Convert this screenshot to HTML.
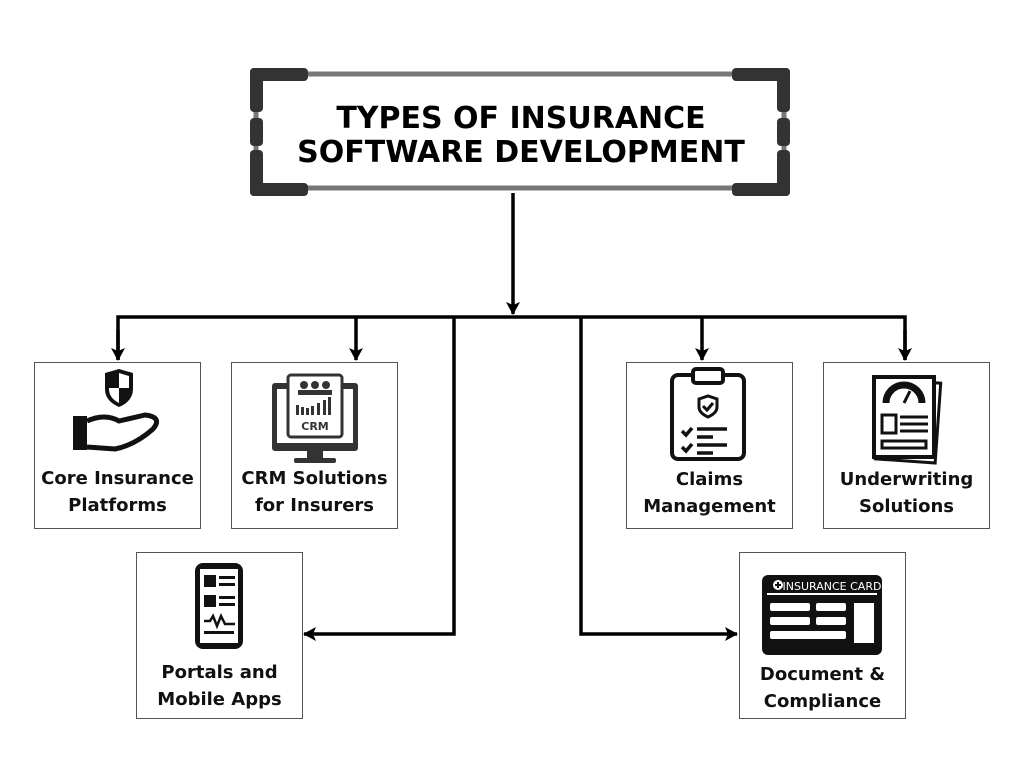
<!DOCTYPE html>
<html><head><style>
body{margin:0;width:1024px;height:768px;background:#fff;position:relative;font-family:"DejaVu Sans","Liberation Sans",sans-serif;overflow:hidden}
.box{position:absolute;width:167px;height:167px;border:1.5px solid #555;box-sizing:border-box;background:#fff}
.lbl{position:absolute;left:0;right:0;text-align:center;font-weight:bold;font-size:18px;line-height:27px;color:#111}
svg{position:absolute;left:0;top:0}
</style></head><body>
<svg width="1024" height="768">
<defs>
<marker id="b" markerWidth="14" markerHeight="14" refX="12" refY="7" orient="auto" markerUnits="userSpaceOnUse"><path d="M0,0L13,7L0,14L3,7z" fill="#000"/></marker></defs>
<rect x="252" y="70" width="537" height="122" fill="#fff"/>
<line x1="290" y1="74" x2="750" y2="74" stroke="#777" stroke-width="5"/>
<line x1="290" y1="188" x2="750" y2="188" stroke="#777" stroke-width="5"/>
<line x1="256" y1="100" x2="256" y2="165" stroke="#777" stroke-width="5"/>
<line x1="784" y1="100" x2="784" y2="165" stroke="#777" stroke-width="5"/>
<g fill="#333">
<rect x="250" y="68" width="58" height="13" rx="4"/><rect x="250" y="68" width="13" height="44" rx="4"/>
<rect x="732" y="68" width="58" height="13" rx="4"/><rect x="777" y="68" width="13" height="44" rx="4"/>
<rect x="250" y="183" width="58" height="13" rx="4"/><rect x="250" y="150" width="13" height="46" rx="4"/>
<rect x="732" y="183" width="58" height="13" rx="4"/><rect x="777" y="150" width="13" height="46" rx="4"/>
<rect x="250" y="118" width="13" height="28" rx="4"/><rect x="777" y="118" width="13" height="28" rx="4"/>
</g>
<text x="521" y="128" text-anchor="middle" font-family="DejaVu Sans,Liberation Sans,sans-serif" font-weight="bold" font-size="30">TYPES OF INSURANCE</text>
<text x="521" y="162" text-anchor="middle" font-family="DejaVu Sans,Liberation Sans,sans-serif" font-weight="bold" font-size="30">SOFTWARE DEVELOPMENT</text>
<g stroke="#000" stroke-width="3.5" fill="none">
<line x1="513" y1="193" x2="513" y2="314" marker-end="url(#b)"/>
<polyline points="118,360 118,317 905,317 905,360"/>
<line x1="118" y1="330" x2="118" y2="360" marker-end="url(#b)"/>
<line x1="905" y1="330" x2="905" y2="360" marker-end="url(#b)"/>
<line x1="356" y1="317" x2="356" y2="360" marker-end="url(#b)"/>
<line x1="702" y1="317" x2="702" y2="360" marker-end="url(#b)"/>
<polyline points="454,317 454,634 304,634" marker-end="url(#b)"/>
<polyline points="581,317 581,634 737,634" marker-end="url(#b)"/>
</g>
</svg>

<div class="box" style="left:34px;top:362px">
<svg width="165" height="165" viewBox="0 0 165 165"><path d="M70 10 L84 6 L98 10 L98 26 Q98 38 84 44 Q70 38 70 26Z" fill="#111"/><path d="M84 10 L94 13 L94 25 L84 25Z M74 25 L84 25 L84 40 Q74 35 74 26Z" fill="#fff"/>
<rect x="38" y="53" width="14" height="34" fill="#111"/><path d="M52 58 Q70 50 84 58 L110 52 Q128 54 118 66 Q100 82 80 86 L52 84" fill="none" stroke="#111" stroke-width="5"/></svg>
<div class="lbl" style="top:102px">Core Insurance<br>Platforms</div></div>

<div class="box" style="left:231px;top:362px">
<svg width="165" height="165" viewBox="0 0 165 165"><rect x="40" y="20" width="86" height="68" rx="3" fill="#333"/><rect x="45" y="26" width="76" height="54" fill="#fff"/><rect x="56" y="12" width="54" height="62" rx="3" fill="#fff" stroke="#333" stroke-width="3"/>
<circle cx="72" cy="22" r="4" fill="#333"/><circle cx="83" cy="22" r="4" fill="#333"/><circle cx="94" cy="22" r="4" fill="#333"/><rect x="66" y="27" width="34" height="5" fill="#333"/>
<g fill="#333"><rect x="64" y="42" width="3" height="10"/><rect x="69" y="44" width="3" height="8"/><rect x="74" y="45" width="3" height="7"/><rect x="79" y="43" width="3" height="9"/><rect x="85" y="40" width="3" height="12"/><rect x="91" y="37" width="3" height="15"/><rect x="96" y="34" width="3" height="18"/></g>
<text x="83" y="67" text-anchor="middle" font-size="11" font-weight="bold" fill="#333" font-family="DejaVu Sans,sans-serif">CRM</text>
<rect x="75" y="88" width="16" height="8" fill="#333"/><rect x="62" y="95" width="42" height="5" rx="2" fill="#333"/></svg>
<div class="lbl" style="top:102px">CRM Solutions<br>for Insurers</div></div>

<div class="box" style="left:626px;top:362px">
<svg width="165" height="165" viewBox="0 0 165 165"><rect x="45" y="12" width="72" height="84" rx="6" fill="none" stroke="#111" stroke-width="4"/><rect x="66" y="6" width="30" height="14" rx="3" fill="#fff" stroke="#111" stroke-width="4"/>
<path d="M72 36 L81 33 L90 36 L90 44 Q90 50 81 54 Q72 50 72 44Z" fill="none" stroke="#111" stroke-width="3"/><path d="M76 43 l4 4 l6 -7" fill="none" stroke="#111" stroke-width="3"/>
<g stroke="#111" stroke-width="3.5" fill="none"><path d="M55 68 l4 4 l6 -7"/><path d="M55 84 l4 4 l6 -7"/><line x1="70" y1="66" x2="100" y2="66"/><line x1="70" y1="74" x2="86" y2="74"/><line x1="70" y1="82" x2="100" y2="82"/><line x1="70" y1="90" x2="86" y2="90"/></g></svg>
<div class="lbl" style="top:103px">Claims<br>Management</div></div>

<div class="box" style="left:823px;top:362px">
<svg width="165" height="165" viewBox="0 0 165 165"><rect x="54" y="18" width="60" height="80" fill="#fff" stroke="#111" stroke-width="3" transform="rotate(4 84 58)"/><rect x="50" y="14" width="60" height="80" fill="#fff" stroke="#111" stroke-width="4"/>
<path d="M62 40 A18 18 0 0 1 98 40" fill="none" stroke="#111" stroke-width="7"/><line x1="80" y1="40" x2="86" y2="28" stroke="#111" stroke-width="3"/>
<rect x="58" y="52" width="14" height="18" fill="none" stroke="#111" stroke-width="3"/><g stroke="#111" stroke-width="3"><line x1="76" y1="54" x2="104" y2="54"/><line x1="76" y1="61" x2="104" y2="61"/><line x1="76" y1="68" x2="104" y2="68"/></g><rect x="58" y="78" width="44" height="7" fill="none" stroke="#111" stroke-width="3"/></svg>
<div class="lbl" style="top:103px">Underwriting<br>Solutions</div></div>

<div class="box" style="left:136px;top:552px">
<svg width="165" height="165" viewBox="0 0 165 165"><rect x="58" y="10" width="48" height="86" rx="8" fill="#111"/><rect x="63" y="16" width="38" height="74" fill="#fff"/>
<g fill="#111"><rect x="67" y="22" width="12" height="12"/><rect x="82" y="23" width="16" height="3"/><rect x="82" y="30" width="16" height="3"/><rect x="67" y="42" width="12" height="12"/><rect x="82" y="43" width="16" height="3"/><rect x="82" y="50" width="16" height="3"/></g>
<path d="M67 68 h6 l3 -5 l4 10 l4 -10 l4 8 h10" fill="none" stroke="#111" stroke-width="2.5"/><rect x="67" y="78" width="30" height="3" fill="#111"/></svg>
<div class="lbl" style="top:106px">Portals and<br>Mobile Apps</div></div>

<div class="box" style="left:739px;top:552px">
<svg width="165" height="165" viewBox="0 0 165 165"><rect x="22" y="22" width="120" height="80" rx="6" fill="#111"/><rect x="27" y="40" width="110" height="2" fill="#fff"/>
<circle cx="38" cy="32" r="5" fill="#fff"/><path d="M38 29v6M35 32h6" stroke="#111" stroke-width="2"/>
<text x="92" y="37" text-anchor="middle" font-size="11" fill="#fff" font-family="DejaVu Sans,sans-serif">INSURANCE CARD</text>
<g fill="#fff"><rect x="30" y="50" width="40" height="8" rx="2"/><rect x="76" y="50" width="30" height="8" rx="2"/><rect x="30" y="64" width="40" height="8" rx="2"/><rect x="76" y="64" width="30" height="8" rx="2"/><rect x="30" y="78" width="76" height="8" rx="2"/><rect x="114" y="50" width="20" height="40"/></g></svg>
<div class="lbl" style="top:108px">Document &amp;<br>Compliance</div></div>
</body></html>
